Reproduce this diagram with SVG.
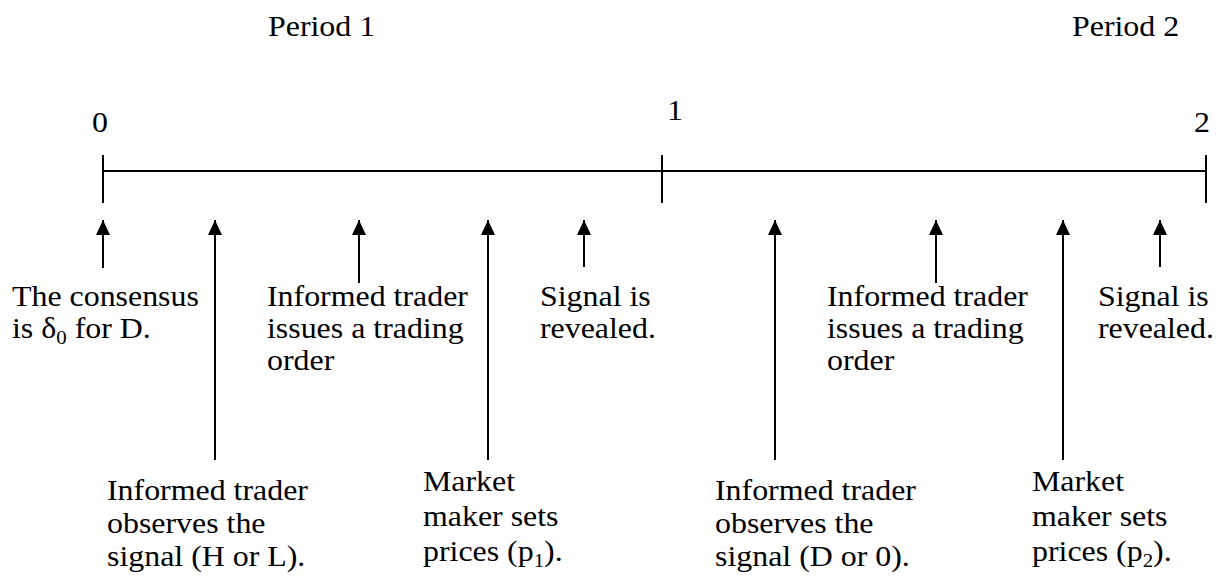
<svg xmlns="http://www.w3.org/2000/svg" width="1219" height="582" viewBox="0 0 1219 582">
<style>
.t{font-family:"Liberation Serif","Times New Roman",serif;font-size:29px;fill:#000}
.sub{font-size:19px}
.ln{stroke:#000;stroke-width:2;fill:none}
</style>
<defs>
<marker id="ah" markerUnits="userSpaceOnUse" markerWidth="16" markerHeight="16" viewBox="0 0 16 16" refX="15" refY="8" orient="auto">
<path d="M0,1 L15,8 L0,15 Z" fill="#000"/>
</marker>
</defs>
<rect width="1219" height="582" fill="#fff"/>

<g id="timeline">
<line class="ln" x1="103" y1="171" x2="1206" y2="171"/>
<line class="ln" x1="103" y1="155" x2="103" y2="203"/>
<line class="ln" x1="662" y1="155" x2="662" y2="203"/>
<line class="ln" x1="1206" y1="155" x2="1206" y2="203"/>
</g>

<g id="labels">
<g transform="translate(268,36) scale(1.1,1)"><text class="t">Period 1</text></g>
<g transform="translate(1072,36) scale(1.1,1)"><text class="t">Period 2</text></g>
<g transform="translate(92,132) scale(1.1,1)"><text class="t">0</text></g>
<g transform="translate(667,120) scale(1.1,1)"><text class="t">1</text></g>
<g transform="translate(1194,132) scale(1.1,1)"><text class="t">2</text></g>
</g>

<g id="connectors">
<line class="ln" x1="103" y1="268" x2="103" y2="220" marker-end="url(#ah)"/>
<line class="ln" x1="215" y1="460" x2="215" y2="220" marker-end="url(#ah)"/>
<line class="ln" x1="359" y1="283" x2="359" y2="220" marker-end="url(#ah)"/>
<line class="ln" x1="488" y1="460" x2="488" y2="220" marker-end="url(#ah)"/>
<line class="ln" x1="584" y1="267" x2="584" y2="220" marker-end="url(#ah)"/>
<line class="ln" x1="775" y1="460" x2="775" y2="220" marker-end="url(#ah)"/>
<line class="ln" x1="936" y1="283" x2="936" y2="220" marker-end="url(#ah)"/>
<line class="ln" x1="1063" y1="460" x2="1063" y2="220" marker-end="url(#ah)"/>
<line class="ln" x1="1160" y1="267" x2="1160" y2="220" marker-end="url(#ah)"/>
</g>

<g id="n-consensus" transform="translate(12,306) scale(1.1,1)">
<text class="t"><tspan x="0" y="0">The consensus</tspan><tspan x="0" y="32">is δ<tspan class="sub" dy="6">0</tspan><tspan dy="-6"> for D.</tspan></tspan></text>
</g>
<g id="n-observe1" transform="translate(107,500) scale(1.1,1)">
<text class="t"><tspan x="0" y="0">Informed trader</tspan><tspan x="0" y="33">observes the</tspan><tspan x="0" y="66">signal (H or L).</tspan></text>
</g>
<g id="n-order1" transform="translate(267,306) scale(1.1,1)">
<text class="t"><tspan x="0" y="0">Informed trader</tspan><tspan x="0" y="32">issues a trading</tspan><tspan x="0" y="64">order</tspan></text>
</g>
<g id="n-market1" transform="translate(423,491) scale(1.1,1)">
<text class="t"><tspan x="0" y="0">Market</tspan><tspan x="0" y="35">maker sets</tspan><tspan x="0" y="70">prices (p<tspan class="sub" dy="6">1</tspan><tspan dy="-6">).</tspan></tspan></text>
</g>
<g id="n-signal1" transform="translate(540,306) scale(1.1,1)">
<text class="t"><tspan x="0" y="0">Signal is</tspan><tspan x="0" y="32">revealed.</tspan></text>
</g>
<g id="n-observe2" transform="translate(715,500) scale(1.1,1)">
<text class="t"><tspan x="0" y="0">Informed trader</tspan><tspan x="0" y="33">observes the</tspan><tspan x="0" y="66">signal (D or 0).</tspan></text>
</g>
<g id="n-order2" transform="translate(827,306) scale(1.1,1)">
<text class="t"><tspan x="0" y="0">Informed trader</tspan><tspan x="0" y="32">issues a trading</tspan><tspan x="0" y="64">order</tspan></text>
</g>
<g id="n-market2" transform="translate(1032,491) scale(1.1,1)">
<text class="t"><tspan x="0" y="0">Market</tspan><tspan x="0" y="35">maker sets</tspan><tspan x="0" y="70">prices (p<tspan class="sub" dy="6">2</tspan><tspan dy="-6">).</tspan></tspan></text>
</g>
<g id="n-signal2" transform="translate(1098,306) scale(1.1,1)">
<text class="t"><tspan x="0" y="0">Signal is</tspan><tspan x="0" y="32">revealed.</tspan></text>
</g>
</svg>
